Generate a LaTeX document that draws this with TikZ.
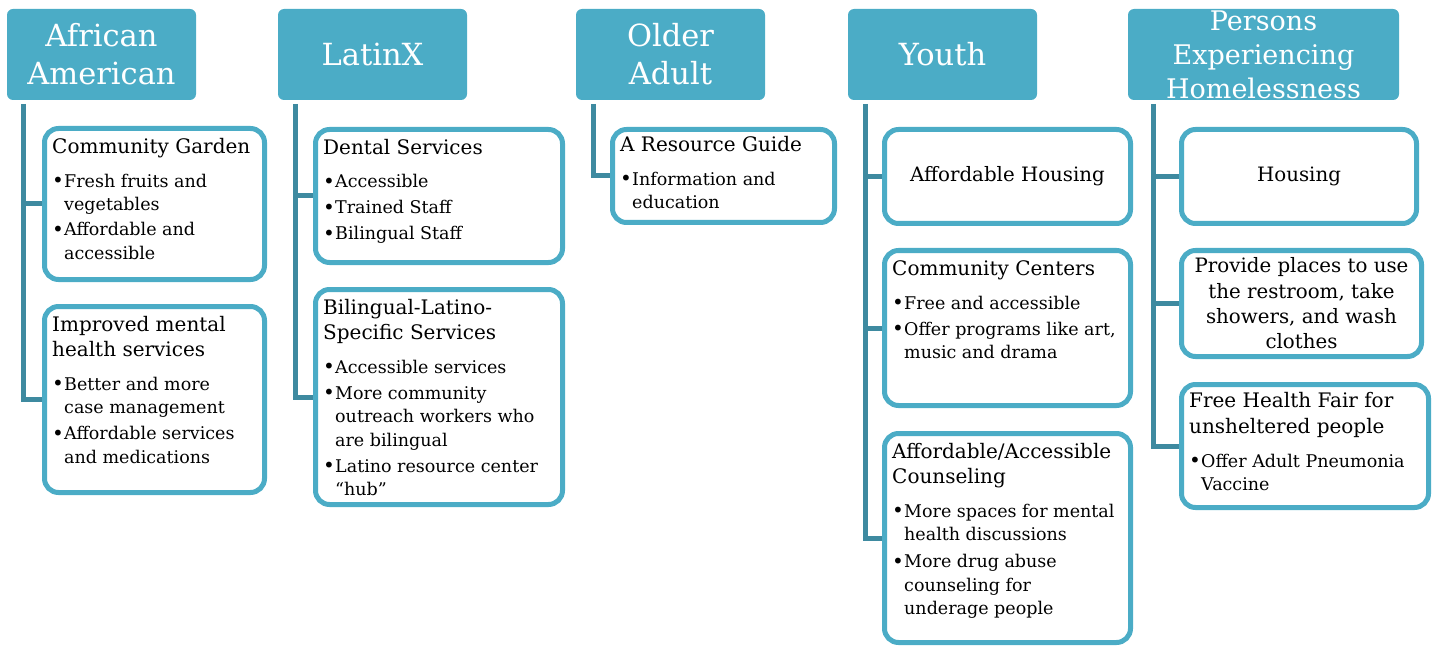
\documentclass[tikz,border=0pt]{standalone}
\usepackage{fontspec}
\setmainfont{DejaVu Serif}
\usepackage{xcolor}
\usepackage{tikz}
\usetikzlibrary{calc}
\usetikzlibrary{positioning}
\definecolor{hdrblue}{RGB}{75,172,198}
\definecolor{lineblue}{RGB}{62,138,160}
\tikzstyle{hdr} = [rectangle, fill=hdrblue, rounded corners=6pt, text=white, align=center, minimum width=189pt, minimum height=91pt, inner sep=0pt, font=\fontsize{30.5}{38}\selectfont]
\tikzstyle{hdrtxt} = [text=white, align=center, inner sep=0pt, font=\fontsize{27}{34}\selectfont]
\tikzstyle{box} = [rectangle, draw=hdrblue, line width=5pt, rounded corners=14pt, fill=white, inner sep=0pt]
\tikzstyle{txt} = [align=left, inner sep=0pt, font=\fontsize{17.5}{23.5}\selectfont]
\tikzstyle{ctxt} = [align=center, font=\fontsize{19.8}{25.3}\selectfont]
\tikzstyle{conn} = [draw=lineblue, line width=5pt]
\newcommand{\ttl}[1]{{\fontsize{20}{23.5}\selectfont #1}}
\newcommand{\bul}{\makebox[12pt][l]{\raisebox{-0.3pt}{\fontsize{20}{20}\selectfont\textbullet}}}
\newcommand{\ind}{\hspace*{12pt}}

\begin{document}
\begin{tikzpicture}[x=1pt, y=-1pt]
\useasboundingbox (0, 0) rectangle (1435, 647);

% headers
\node [hdr] (aa) at (101.5, 54.5) {African\\American};
\node [hdr] (lx) at (372.5, 54.5) {LatinX};
\node [hdr] (oa) at (670.5, 54.5) {Older\\Adult};
\node [hdr] (yo) at (942.5, 54.5) {Youth};
\node [hdr, minimum width=271pt] (peh) at (1263.5, 54.5) {};
\node [hdrtxt] (peht) at (peh.center) {Persons\\Experiencing\\Homelessness};

% African American
\node [box, minimum width=220pt, minimum height=151pt] (cg) at (154.5, 204) {};
\node [txt, below right=12pt and 10pt of cg.north west] (cgt) {\ttl{Community Garden}\\[10.5pt]
  \bul Fresh fruits and\\ \ind vegetables\\[1.5pt]
  \bul Affordable and\\ \ind accessible};
\node [box, minimum width=220pt, minimum height=186pt] (mh) at (154.5, 399.5) {};
\node [txt, below right=12pt and 10pt of mh.north west] (mht) {\ttl{Improved mental}\\[1.5pt]\ttl{health services}\\[10.5pt]
  \bul Better and more\\ \ind case management\\[2.5pt]
  \bul Affordable services\\ \ind and medications};

% LatinX
\node [box, minimum width=247pt, minimum height=133pt] (ds) at (439, 196) {};
\node [txt, below right=12pt and 10pt of ds.north west] (dst) {\ttl{Dental Services}\\[10pt]
  \bul Accessible\\[2.5pt]
  \bul Trained Staff\\[2.5pt]
  \bul Bilingual Staff};
\node [box, minimum width=247pt, minimum height=215pt] (bl) at (439, 397) {};
\node [txt, below right=12pt and 10pt of bl.north west] (blt) {\ttl{Bilingual-Latino-}\\[1.5pt]\ttl{Specific Services}\\[10.5pt]
  \bul Accessible services\\[2.5pt]
  \bul More community\\ \ind outreach workers who\\ \ind are bilingual\\[2.5pt]
  \bul Latino resource center\\ \ind “hub”};

% Older Adult
\node [box, minimum width=222pt, minimum height=93pt] (rg) at (723.5, 176) {};
\node [txt, below right=9pt and 10pt of rg.north west] (rgt) {\ttl{A Resource Guide}\\[10.5pt]
  \bul Information and\\ \ind education};

% Youth
\node [box, ctxt, minimum width=246pt, minimum height=94pt] (ah) at (1007.5, 176.5) {Affordable Housing};
\node [box, minimum width=246pt, minimum height=155pt] (cc) at (1007.5, 328) {};
\node [txt, below right=12pt and 10pt of cc.north west] (cct) {\ttl{Community Centers}\\[10.5pt]
  \bul Free and accessible\\[2.5pt]
  \bul Offer programs like art,\\ \ind music and drama};
\node [box, minimum width=246pt, minimum height=209pt] (co) at (1007.5, 538) {};
\node [txt, below right=12pt and 10pt of co.north west] (cot) {\ttl{Affordable/Accessible}\\[1.5pt]\ttl{Counseling}\\[10.5pt]
  \bul More spaces for mental\\ \ind health discussions\\[3.5pt]
  \bul More drug abuse\\ \ind counseling for\\ \ind underage people};

% Persons Experiencing Homelessness
\node [box, ctxt, minimum width=235pt, minimum height=94pt] (ho) at (1299, 176.5) {Housing};
\node [box, ctxt, minimum width=240pt, minimum height=106pt] (pp) at (1301.5, 303.5) {Provide places to use\\the restroom, take\\showers, and wash\\clothes};
\node [box, minimum width=247pt, minimum height=123pt] (hf) at (1305, 446) {};
\node [txt, below right=10pt and 10pt of hf.north west] (hft) {\ttl{Free Health Fair for}\\[2.5pt]\ttl{unsheltered people}\\[10.5pt]
  \bul Offer Adult Pneumonia\\ \ind Vaccine};

% connectors
\coordinate (aaL) at (23, 104);
\coordinate (lxL) at (295, 104);
\coordinate (oaL) at (593, 104);
\coordinate (yoL) at (865, 104);
\coordinate (pehL) at (1153, 104);
\draw [conn] (aaL) |- (mh.west);
\draw [conn] (aaL |- cg.west) -- (cg.west);
\draw [conn] (lxL) |- (bl.west);
\draw [conn] (lxL |- ds.west) -- (ds.west);
\draw [conn] (oaL) |- (rg.west);
\draw [conn] (yoL) |- (co.west);
\draw [conn] (yoL |- ah.west) -- (ah.west);
\draw [conn] (yoL |- cc.west) -- (cc.west);
\draw [conn] (pehL) |- (hf.west);
\draw [conn] (pehL |- ho.west) -- (ho.west);
\draw [conn] (pehL |- pp.west) -- (pp.west);
\end{tikzpicture}
\end{document}
